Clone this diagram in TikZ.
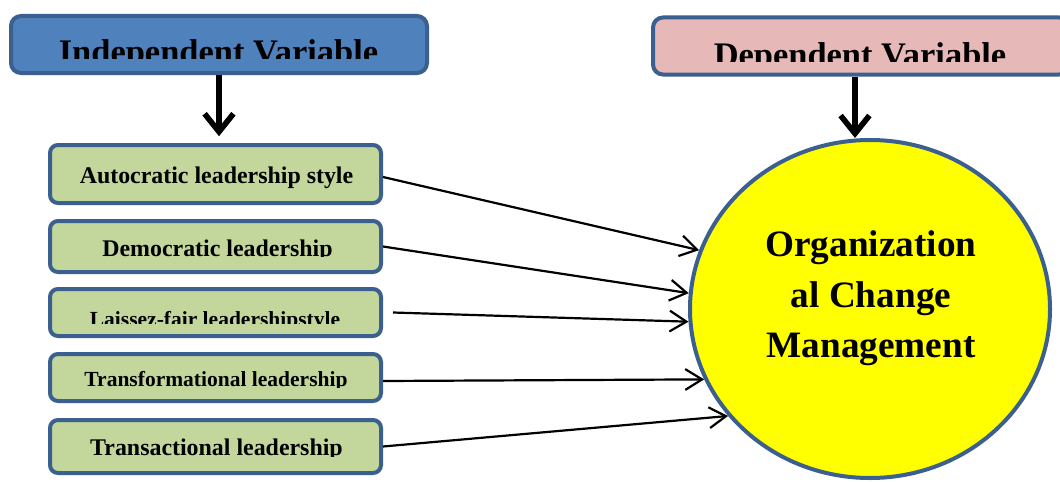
\documentclass[tikz,border=0pt]{standalone}
\usepackage{fontspec}
\setmainfont{Liberation Serif}
\usetikzlibrary{arrows.meta,shapes.geometric}

\definecolor{ivblue}{HTML}{4F81BD}
\definecolor{dvpink}{HTML}{E6B9B8}
\definecolor{edgeblue}{HTML}{3B5F8E}
\definecolor{factorgreen}{HTML}{C3D69B}
\definecolor{orgyellow}{HTML}{FFFF00}

\begin{document}
\begin{tikzpicture}[
  varbox/.style={draw=edgeblue,line width=0.1cm,rounded corners=0.25cm,minimum width=10.4cm,minimum height=1.425cm,inner sep=0pt},
  factor/.style={draw=edgeblue,fill=factorgreen,line width=0.1cm,rounded corners=0.2cm,minimum width=8.275cm,inner sep=0pt},
  varlbl/.style={anchor=base,inner sep=0pt,font=\fontsize{24.5}{29}\selectfont\bfseries},
  flbl/.style={anchor=base,inner sep=0pt,font=\fontsize{17}{20}\selectfont\bfseries},
  flblsmall/.style={flbl,font=\fontsize{15.3}{18}\selectfont\bfseries},
  feed/.style={-{Straight Barb[length=0.42cm,width=0.52cm]},line width=0.055cm},
  bigarrow/.style={-{Straight Barb[length=0.45cm,width=0.72cm]},line width=0.14cm}]
  \useasboundingbox[fill=white] (0,0) rectangle (26.5,12.025);

  % variable headers (text is cut at the bottom)
  \node[varbox,fill=ivblue] (ivar) at (5.475,10.9125) {};
  \begin{scope}
    \clip (0,10.575) rectangle (11,12);
    \node[varlbl] (ivartxt) at (5.4625,10.45) {Independent Variable};
  \end{scope}
  \node[varbox,fill=dvpink] (dvar) at (21.525,10.875) {};
  \begin{scope}
    \clip (16,10.48) rectangle (26.5,12);
    \node[varlbl] (dvartxt) at (21.5,10.375) {Dependent Variable};
  \end{scope}

  % leadership styles
  \node[factor,minimum height=1.45cm]  (f1) at (5.3875,7.675) {};
  \node[flbl] (t1) at (5.4125,7.4425) {Autocratic leadership style};
  \node[factor,minimum height=1.275cm] (f2) at (5.3875,5.8625) {};
  \begin{scope}
    \clip (0,5.6075) rectangle (10,7);
    \node[flbl] (t2) at (5.4375,5.625) {Democratic leadership};
  \end{scope}
  \node[factor,minimum height=1.175cm] (f3) at (5.3875,4.2125) {};
  \begin{scope}
    \clip (0,3.9425) rectangle (10,5);
    \node[flblsmall] (t3) at (5.375,3.875) {Laissez-fair leadershipstyle};
  \end{scope}
  \node[factor,minimum height=1.175cm] (f4) at (5.3875,2.5875) {};
  \begin{scope}
    \clip (0,2.3425) rectangle (10,3.5);
    \node[flblsmall] (t4) at (5.4,2.36) {Transformational leadership};
  \end{scope}
  \node[factor,minimum height=1.325cm] (f5) at (5.3875,0.8625) {};
  \begin{scope}
    \clip (0,0.6075) rectangle (10,1.8);
    \node[flbl] (t5) at (5.4125,0.63) {Transactional leadership};
  \end{scope}

  % outcome
  \node[ellipse,draw=edgeblue,fill=orgyellow,line width=0.1cm,minimum width=9cm,minimum height=8.45cm] (org) at (21.75,4.3) {};
  \node[align=center,inner sep=0pt,font=\fontsize{26.5}{35.6}\selectfont\bfseries] (orgtxt) at (21.775,4.57)
    {Organization\\al Change\\Management};

  \draw[bigarrow,shorten >=0.17cm] (ivar.south) -- (ivar.south |- f1.north);
  \draw[bigarrow] ([xshift=-0.15cm]dvar.south) -- ([xshift=-0.15cm]dvar.south |- org.north);

  \draw[feed] ([yshift=-0.075cm]f1.east) -- (org.161);
  \draw[feed] (f2.east) -- (org.175.6);
  \draw[feed] ([xshift=0.25cm]f3.east) -- (org.184.4);
  \draw[feed] ([yshift=-0.0875cm]f4.east) -- (org.203.3);
  \draw[feed] (f5.east) -- (org.217.5);
\end{tikzpicture}
\end{document}
